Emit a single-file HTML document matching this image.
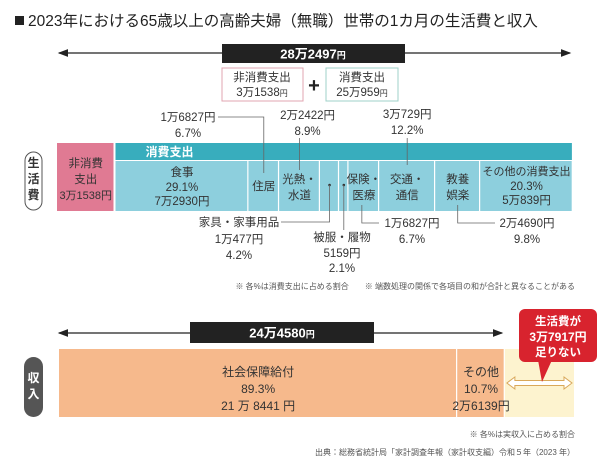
<!DOCTYPE html>
<html><head><meta charset="utf-8"><style>
body{margin:0;background:#fff;width:600px;height:475px;overflow:hidden}
svg{display:block;font-family:"Liberation Sans","Noto Sans CJK JP",sans-serif}
</style></head><body>
<svg id="c" width="600" height="475" viewBox="0 0 600 475">
<defs>
<marker id="ah" markerWidth="8" markerHeight="8" refX="7" refY="4" orient="auto-start-reverse"><path d="M0,1 L8,4 L0,7 z" fill="#222"/></marker>
</defs>
<g>
<rect x="15" y="16" width="9" height="9" fill="#222"/>
<text x="28" y="26" font-size="15.5" fill="#222">2023年における65歳以上の高齢夫婦（無職）世帯の1カ月の生活費と収入</text>
</g>
<g>
<line x1="59" y1="53" x2="570" y2="53" stroke="#222" stroke-width="1.3" marker-start="url(#ah)" marker-end="url(#ah)"/>
<rect x="222" y="44" width="183" height="19" fill="#222"/>
<text x="313" y="58.5" font-size="13" font-weight="bold" fill="#fff" text-anchor="middle">28万2497<tspan font-size="9">円</tspan></text>
</g>
<g>
<rect x="222" y="68" width="81" height="33" fill="#fff" stroke="#e2a4b0"/>
<text x="262" y="81" font-size="11.5" text-anchor="middle" fill="#333">非消費支出</text>
<text x="262" y="96" font-size="11.5" text-anchor="middle" fill="#333">3万1538<tspan font-size="8">円</tspan></text>
<text x="314" y="92" font-size="20" font-weight="bold" text-anchor="middle" fill="#222">+</text>
<rect x="326" y="68" width="72" height="33" fill="#fff" stroke="#9fd2c8"/>
<text x="362" y="81" font-size="11.5" text-anchor="middle" fill="#333">消費支出</text>
<text x="362" y="96" font-size="11.5" text-anchor="middle" fill="#333">25万959<tspan font-size="8">円</tspan></text>
</g>
<g>
<rect x="25" y="152" width="17" height="58" rx="8.5" fill="#fff" stroke="#555"/>
<text x="33.5" y="167" font-size="12" font-weight="bold" text-anchor="middle" fill="#333">生</text>
<text x="33.5" y="183" font-size="12" font-weight="bold" text-anchor="middle" fill="#333">活</text>
<text x="33.5" y="199" font-size="12" font-weight="bold" text-anchor="middle" fill="#333">費</text>
</g>
<g id="exp"></g>
<g id="inc"></g>
<g font-size="8" fill="#555">
<text x="575" y="289" text-anchor="end">※ 各%は消費支出に占める割合　　※ 端数処理の関係で各項目の和が合計と異なることがある</text>
<text x="575" y="437" text-anchor="end">※ 各%は実収入に占める割合</text>
<text x="575" y="455" text-anchor="end">出典：総務省統計局「家計調査年報（家計収支編）令和５年（2023 年）</text>
</g>
<g>
<rect x="24" y="357" width="19" height="60" rx="9.5" fill="#555"/>
<text x="33.5" y="382" font-size="12" font-weight="bold" text-anchor="middle" fill="#fff">収</text>
<text x="33.5" y="398" font-size="12" font-weight="bold" text-anchor="middle" fill="#fff">入</text>
</g>
<g>
<line x1="59" y1="333" x2="502" y2="333" stroke="#222" stroke-width="1.3" marker-start="url(#ah)" marker-end="url(#ah)"/>
<rect x="190" y="322" width="184" height="21" fill="#222"/>
<text x="282" y="337.5" font-size="13" font-weight="bold" fill="#fff" text-anchor="middle">24万4580<tspan font-size="9">円</tspan></text>
</g>
<script>
const nonConsLabel=["非消費","支出"];
const nonConsValue=31538;
const consCategories=["食事","住居","光熱・水道","家具・家事用品","被服・履物","保険・医療","交通・通信","教養娯楽","その他の消費支出"];
const consValues=[72930,16827,22422,10477,5159,16827,30729,24690,50839];
const consPercents=[29.1,6.7,8.9,4.2,2.1,6.7,12.2,9.8,20.3];
const incomeCategories=["社会保障給付","その他"];
const incomeValues=[218441,26139];
const incomePercents=[89.3,10.7];
const shortfall=37917;

const NS="http://www.w3.org/2000/svg";
const X0=57,PX=515/282497;
const xs=v=>v*PX;
function yen(v){const m=Math.floor(v/10000),r=v%10000;return (m?m+"万":"")+r;}
function el(t,a,p){const e=document.createElementNS(NS,t);for(const k in a)e.setAttribute(k,a[k]);p.appendChild(e);return e;}
function txt(p,x,y,s,size,fill,weight){const t=el("text",{x:x,y:y,"font-size":size||11,fill:fill||"#333","text-anchor":"middle"},p);if(weight)t.setAttribute("font-weight",weight);t.textContent=s;return t;}
const g=document.getElementById("exp");
let w0=xs(nonConsValue);
const pr=el("rect",{x:X0,y:143,width:w0-1,height:68,fill:"#e07a93"},g);


let cx=X0+w0/2;
txt(g,cx,167,nonConsLabel[0],11.5,"#333");
txt(g,cx,183,nonConsLabel[1],11.5,"#333");
txt(g,cx,199,yen(nonConsValue)+"円",11,"#333");
const cs=X0+w0+1;
const consTotal=consValues.reduce((a,b)=>a+b,0);
const hr=el("rect",{x:cs,y:143,width:xs(consTotal)-1,height:17,fill:"#38adbd"},g);


txt(g,cs+30,156,"消費支出",12,"#fff","bold").setAttribute("text-anchor","start");
let x=cs;const pos=[];
consValues.forEach((v,i)=>{const w=xs(v);
 const r=el("rect",{x:x,y:161,width:w-1.2,height:50,fill:"#8dcfdd"},g);
 
 
 pos.push([x,w]);x+=w;});
const c=i=>pos[i][0]+pos[i][1]/2;
txt(g,c(0),176,consCategories[0],11.5);txt(g,c(0),191,consPercents[0]+"%",11.5);txt(g,c(0),205,yen(consValues[0])+"円",11.5);
txt(g,c(1),190,"住居",11.5);
txt(g,c(2),183,"光熱・",11.5);txt(g,c(2),199,"水道",11.5);
txt(g,c(5),183,"保険・",11.5);txt(g,c(5),199,"医療",11.5);
txt(g,c(6),183,"交通・",11.5);txt(g,c(6),199,"通信",11.5);
txt(g,c(7),183,"教養",11.5);txt(g,c(7),199,"娯楽",11.5);
txt(g,c(8),175,consCategories[8],11);txt(g,c(8),190,consPercents[8]+"%",11.5);txt(g,c(8),204,yen(consValues[8])+"円",11.5);
const L=(pts)=>el("polyline",{points:pts,fill:"none",stroke:"#666","stroke-width":0.8},g);
L(`218,117 ${c(1)},117 ${c(1)},173`);
txt(g,188,121,yen(consValues[1])+"円",11.5);txt(g,188,137,consPercents[1]+"%",11.5);
L(`${c(2)},138 ${c(2)},170`);
txt(g,c(2)+8,119,yen(consValues[2])+"円",11.5);txt(g,c(2)+8,135,consPercents[2]+"%",11.5);
L(`${c(6)},138 ${c(6)},165`);
txt(g,c(6),118,yen(consValues[6])+"円",11.5);txt(g,c(6),134,consPercents[6]+"%",11.5);
el("circle",{cx:c(3),cy:185,r:1.3,fill:"#333"},g);el("circle",{cx:c(4),cy:185,r:1.3,fill:"#333"},g);
L(`${c(3)},185 ${c(3)},222 281,222`);
txt(g,239,226,consCategories[3],11.5);txt(g,239,243,yen(consValues[3])+"円",11.5);txt(g,239,259,consPercents[3]+"%",11.5);
L(`${c(4)},185 ${c(4)},230`);
txt(g,342,241,"被服・履物",11.5);txt(g,342,257,yen(consValues[4])+"円",11.5);txt(g,342,272,consPercents[4]+"%",11.5);
L(`${c(5)-2},205 ${c(5)-2},223 379,223`);
txt(g,412,227,yen(consValues[5])+"円",11.5);txt(g,412,243,consPercents[5]+"%",11.5);
L(`${c(7)},205 ${c(7)},223 495,223`);
txt(g,527,227,yen(consValues[7])+"円",11.5);txt(g,527,243,consPercents[7]+"%",11.5);
const gi=document.getElementById("inc");
const IX=59;let ix=IX;const ip=[];
incomeValues.forEach((v,i)=>{const w=xs(v);
 const r=el("rect",{x:ix,y:349,width:w-1.2,height:68,fill:"#f6b98c"},gi);
 
 
 ip.push([ix,w]);ix+=w;});
const sw=xs(shortfall);
const sr=el("rect",{x:ix,y:349,width:sw,height:68,fill:"#fdf3cf"},gi);


const ic=i=>ip[i][0]+ip[i][1]/2;
txt(gi,ic(0),376,incomeCategories[0],12);txt(gi,ic(0),393,incomePercents[0]+"%",12);txt(gi,ic(0),410,"21 万 8441 円",12);
txt(gi,ic(1),376,incomeCategories[1],12);txt(gi,ic(1),393,incomePercents[1]+"%",12);txt(gi,ic(1),410,yen(incomeValues[1])+"円",12);
const a1=ix+2,ay=383;
el("path",{d:`M${a1},${ay} l8,-6 v3.5 h${sw-20} v-3.5 l8,6 l-8,6 v-3.5 h-${sw-20} v3.5 z`,fill:"#fff",stroke:"#d9a85a","stroke-width":1},gi);
const co=el("g",{},gi);


el("rect",{x:519,y:309,width:78,height:53,rx:6,fill:"#d8232e"},co);
el("path",{d:"M538,360 L542,382 L552,360 z",fill:"#d8232e"},co);
txt(co,558,325,"生活費が",11.5,"#fff","bold");
txt(co,558,341,yen(shortfall)+"円",12,"#fff","bold");
txt(co,558,356,"足りない",11.5,"#fff","bold");
</script>
</svg>
</body></html>
